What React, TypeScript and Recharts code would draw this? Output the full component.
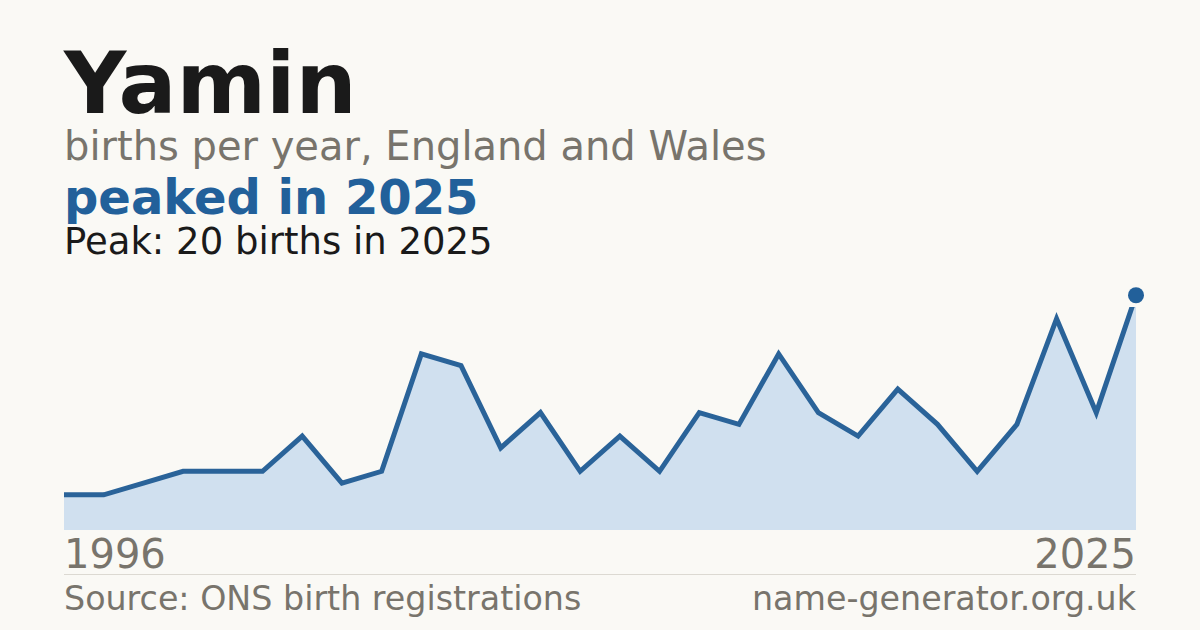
import React from 'react';
import { AreaChart, Area, XAxis, YAxis, ReferenceDot } from 'recharts';

// years with published counts (two years missing from the series)
const years = [
  1996, 1997, 1999, 2000, 2001, 2003, 2004, 2005, 2006, 2007,
  2008, 2009, 2010, 2011, 2012, 2013, 2014, 2015, 2016, 2017,
  2018, 2019, 2020, 2021, 2022, 2023, 2024, 2025,
];
const births = [
  3, 3, 4, 5, 5, 5, 8, 4, 5, 15,
  14, 7, 10, 5, 8, 5, 10, 9, 15, 10,
  8, 12, 9, 5, 9, 18, 10, 20,
];
const edgeTicks = [years[0], years[years.length - 1]];

const peakValue = Math.max(...births);
const peakYear = years[births.indexOf(peakValue)];

const data = years.map((year, i) => ({ year, births: births[i] }));

const BLUE = '#22609a';
const GREY = '#78746c';
const INK = '#1a1a1a';
const FONT = '"DejaVu Sans", Verdana, sans-serif';

const EdgeTick = (props: any) => {
  const { x, y, payload } = props;
  const first = payload.value === edgeTicks[0];
  return (
    <text
      x={x}
      y={y + 38}
      textAnchor={first ? 'start' : 'end'}
      fontFamily={FONT}
      fontSize={40}
      fill={GREY}
    >
      {payload.value}
    </text>
  );
};

const App: React.FC = () => {
  return (
    <div
      style={{
        position: 'absolute',
        left: 0,
        top: 0,
        width: 1200,
        height: 630,
        background: '#faf9f5',
        overflow: 'hidden',
      }}
    >
      <svg width={1200} height={630} style={{ position: 'absolute', left: 0, top: 0 }}>
        <text x={64} y={113} fontFamily={FONT} fontWeight="bold" fontSize={86} fill={INK}>
          Yamin
        </text>
        <text x={64} y={160} fontFamily={FONT} fontSize={40} fill={GREY}>
          births per year, England and Wales
        </text>
        <text x={64} y={214} fontFamily={FONT} fontWeight="bold" fontSize={48} fill={BLUE}>
          peaked in {peakYear}
        </text>
        <text x={64} y={254} fontFamily={FONT} fontSize={37} fill={INK}>
          Peak: {peakValue} births in {peakYear}
        </text>
        <line x1={64} x2={1136} y1={574.5} y2={574.5} stroke="#dcd9d2" strokeWidth={1} />
        <text x={64} y={610} fontFamily={FONT} fontSize={33.3} fill={GREY}>
          Source: ONS birth registrations
        </text>
        <text x={1136} y={610} textAnchor="end" fontFamily={FONT} fontSize={33.3} fill={GREY}>
          name-generator.org.uk
        </text>
      </svg>
      <div style={{ position: 'absolute', left: 0, top: 0 }}>
        <AreaChart
          width={1200}
          height={630}
          data={data}
          margin={{ top: 307, right: 64, bottom: 70, left: 64 }}
        >
          <XAxis
            dataKey="year"
            ticks={edgeTicks}
            interval={0}
            axisLine={false}
            tickLine={false}
            tickSize={0}
            tickMargin={0}
            height={30}
            tick={<EdgeTick />}
          />
          <YAxis hide width={0} domain={[0, 19]} allowDataOverflow />
          <Area
            type="linear"
            dataKey="births"
            stroke="#2a6399"
            strokeWidth={5}
            fill="#d0e0ef"
            fillOpacity={1}
            dot={false}
            activeDot={false}
            isAnimationActive={false}
          />
          <ReferenceDot
            x={peakYear}
            y={peakValue}
            r={8}
            fill={BLUE}
            stroke="none"
            ifOverflow="visible"
          />
        </AreaChart>
      </div>
    </div>
  );
};

export default App;
